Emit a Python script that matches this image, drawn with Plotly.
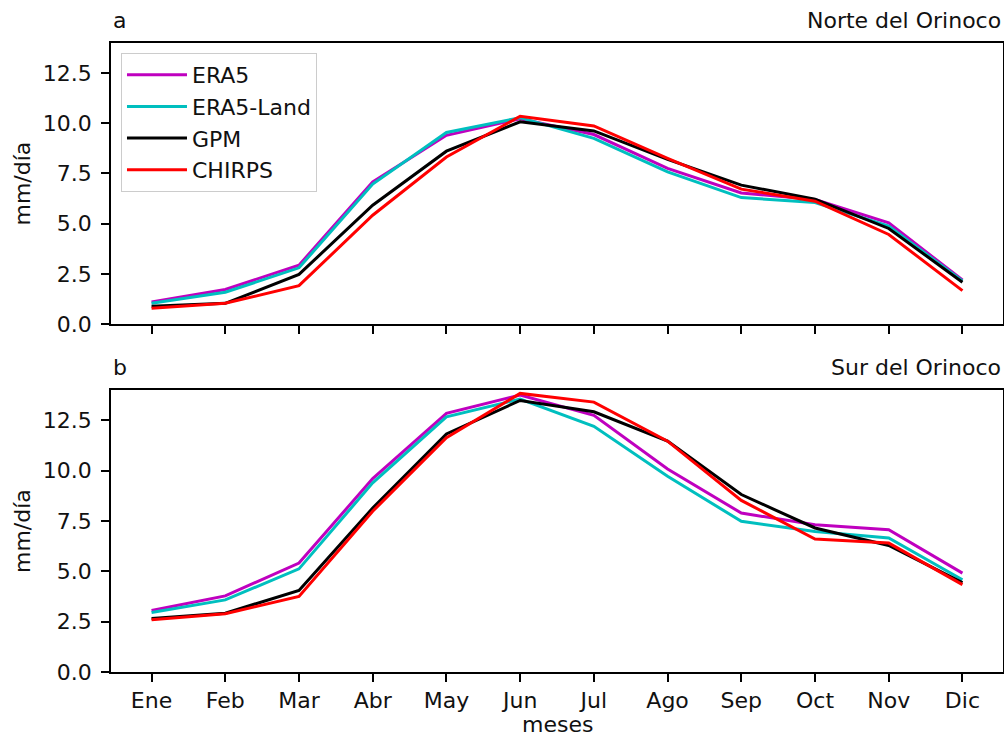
import plotly.graph_objects as go
from plotly.subplots import make_subplots

months = ["Ene", "Feb", "Mar", "Abr", "May", "Jun", "Jul", "Ago", "Sep", "Oct", "Nov", "Dic"]
series_names = ["ERA5", "ERA5-Land", "GPM", "CHIRPS"]
colors = ["#bf00bf", "#00bfbf", "#000000", "#ff0000"]

# Panel a: Norte del Orinoco
norte_era5 = [1.1, 1.72, 2.93, 7.08, 9.40, 10.23, 9.44, 7.75, 6.53, 6.20, 5.04, 2.19]
norte_era5land = [1.03, 1.58, 2.80, 6.97, 9.54, 10.28, 9.25, 7.58, 6.30, 6.05, 4.88, 2.14]
norte_gpm = [0.88, 1.03, 2.47, 5.92, 8.61, 10.07, 9.62, 8.2, 6.92, 6.22, 4.76, 2.08]
norte_chirps = [0.78, 1.03, 1.91, 5.42, 8.32, 10.35, 9.87, 8.25, 6.72, 6.12, 4.46, 1.66]

# Panel b: Sur del Orinoco
sur_era5 = [3.05, 3.78, 5.41, 9.60, 12.84, 13.75, 12.74, 10.08, 7.89, 7.31, 7.06, 4.91]
sur_era5land = [2.95, 3.58, 5.12, 9.39, 12.67, 13.55, 12.20, 9.72, 7.48, 6.98, 6.65, 4.58]
sur_gpm = [2.65, 2.92, 4.05, 8.14, 11.82, 13.48, 12.92, 11.46, 8.81, 7.15, 6.28, 4.44]
sur_chirps = [2.59, 2.89, 3.75, 7.98, 11.63, 13.83, 13.40, 11.46, 8.52, 6.60, 6.40, 4.34]

yticks = [0.0, 2.5, 5.0, 7.5, 10.0, 12.5]
ytick_labels = ["0.0", "2.5", "5.0", "7.5", "10.0", "12.5"]

panel_a = [norte_era5, norte_era5land, norte_gpm, norte_chirps]
panel_b = [sur_era5, sur_era5land, sur_gpm, sur_chirps]

FONT = "DejaVu Sans"
FS = 22
TXT = "#111111"

fig = make_subplots(rows=2, cols=1, shared_xaxes=False, vertical_spacing=0.1)

xidx = list(range(len(months)))
for i, (name, col) in enumerate(zip(series_names, colors)):
    fig.add_trace(go.Scatter(x=xidx, y=panel_a[i], mode="lines", name=name,
                             line=dict(color=col, width=3), legendgroup=name,
                             showlegend=True), row=1, col=1)
for i, (name, col) in enumerate(zip(series_names, colors)):
    fig.add_trace(go.Scatter(x=xidx, y=panel_b[i], mode="lines", name=name,
                             line=dict(color=col, width=3), legendgroup=name,
                             showlegend=False), row=2, col=1)

axis_common = dict(showline=True, mirror=True, linecolor="black", linewidth=1.5,
                   ticks="outside", ticklen=8, tickwidth=1.5, tickcolor="black",
                   showgrid=False, zeroline=False, automargin=False,
                   tickfont=dict(family=FONT, size=FS, color=TXT))

fig.update_xaxes(range=[-0.55, 11.55], tickvals=xidx, ticktext=months, **axis_common)
fig.update_xaxes(showticklabels=False, row=1, col=1)
fig.update_yaxes(range=[0, 14], tickvals=yticks, ticktext=ytick_labels,
                 ticklabelstandoff=5, **axis_common)

fig.update_layout(
    xaxis=dict(domain=[0, 1]),
    xaxis2=dict(domain=[0, 1]),
    yaxis=dict(domain=[348 / 629, 1]),
    yaxis2=dict(domain=[0, 282 / 629]),
)

# axis titles
fig.add_annotation(text="meses", x=0.5, y=0, xref="x2 domain", yref="y2 domain",
                   xanchor="center", yanchor="middle", yshift=-52, showarrow=False,
                   font=dict(family=FONT, size=FS, color=TXT))
for xref, yref in (("x domain", "y domain"), ("x2 domain", "y2 domain")):
    fig.add_annotation(text="mm/día", x=0, y=0.5, xref=xref, yref=yref, textangle=-90,
                       xanchor="center", yanchor="middle", xshift=-89, showarrow=False,
                       font=dict(family=FONT, size=FS, color=TXT))

# panel titles
titles = [("a", "Norte del Orinoco", "x domain", "y domain"),
          ("b", "Sur del Orinoco", "x2 domain", "y2 domain")]
for left, right, xref, yref in titles:
    fig.add_annotation(text=left, x=0, y=1, xref=xref, yref=yref,
                       xanchor="left", yanchor="bottom", yshift=8, showarrow=False,
                       font=dict(family=FONT, size=FS, color=TXT))
    fig.add_annotation(text=right, x=1, y=1, xref=xref, yref=yref,
                       xanchor="right", yanchor="bottom", yshift=8, showarrow=False,
                       font=dict(family=FONT, size=FS, color=TXT))

fig.update_layout(
    width=1004, height=738,
    margin=dict(l=111, r=1, t=43, b=66, autoexpand=False),
    paper_bgcolor="white", plot_bgcolor="white",
    font=dict(family=FONT, size=FS, color=TXT),
    legend=dict(x=0.0112, y=0.984, xanchor="left", yanchor="top",
                bgcolor="rgba(255,255,255,0.8)", bordercolor="#cccccc", borderwidth=1,
                font=dict(family=FONT, size=FS, color=TXT),
                itemwidth=60,
                traceorder="grouped", tracegroupgap=0),
)

fig.write_html("out.html")
